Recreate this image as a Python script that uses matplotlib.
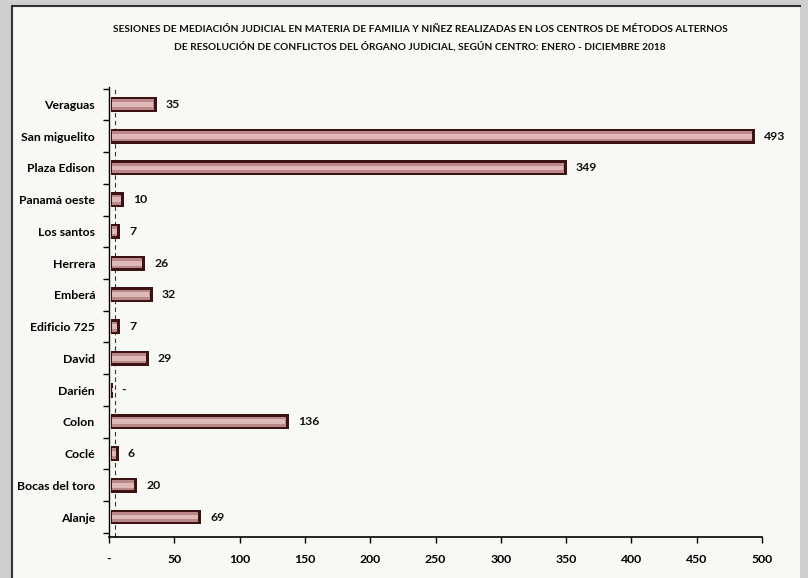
import matplotlib
matplotlib.use("Agg")
import matplotlib.pyplot as plt
from matplotlib.patches import Rectangle

plt.rcParams['font.family'] = ['Lato', 'DejaVu Sans']

categories = ["Alanje", "Bocas del toro", "Coclé", "Colon", "Darién", "David",
              "Edificio 725", "Emberá", "Herrera", "Los santos", "Panamá oeste",
              "Plaza Edison", "San miguelito", "Veraguas"]
values = [69, 20, 6, 136, 0, 29, 7, 32, 26, 7, 10, 349, 493, 35]
value_labels = ["69", "20", "6", "136", "-", "29", "7", "32", "26", "7", "10", "349", "493", "35"]
xticks = [0, 50, 100, 150, 200, 250, 300, 350, 400, 450, 500]
xtick_labels = ["-", "50", "100", "150", "200", "250", "300", "350", "400", "450", "500"]
title = ("SESIONES DE MEDIACIÓN JUDICIAL EN MATERIA DE FAMILIA Y NIÑEZ REALIZADAS EN LOS CENTROS DE MÉTODOS ALTERNOS\n"
         "DE RESOLUCIÓN DE CONFLICTOS DEL ÓRGANO JUDICIAL, SEGÚN CENTRO: ENERO - DICIEMBRE 2018")

W, H = 808, 578
fig = plt.figure(figsize=(W / 100, H / 100), dpi=100)
fig.patch.set_facecolor('#cfcfcf')
# panel
fig.add_artist(Rectangle((12 / W, 0), (800 - 12) / W, (H - 6) / H, transform=fig.transFigure,
                         facecolor='#f8f8f4', edgecolor='none', zorder=0))
fig.add_artist(plt.Line2D([12 / W, 12 / W], [0, (H - 6) / H], transform=fig.transFigure,
                          color='#333333', lw=1.5))
fig.add_artist(plt.Line2D([12 / W, 800 / W], [(H - 6) / H, (H - 6) / H], transform=fig.transFigure,
                          color='#333333', lw=1.5))

ax = fig.add_axes([109 / W, (H - 537) / H, 653 / W, (537 - 87) / H])
ax.set_facecolor('none')
y = list(range(len(categories)))
disp_vals = [v if v > 0 else 1.2 for v in values]
ax.barh(y, disp_vals, height=0.47, left=1.5, color='#3d1212', zorder=3)
ax.barh(y, [max(v - 2.5, 0.3) for v in disp_vals], height=0.32, left=2.0, color='#b98888', zorder=4)
ax.barh(y, [max(v - 3.5, 0.2) for v in disp_vals], height=0.15, left=2.5, color='#dfb8b8', zorder=5)

for yi, v, lab in zip(y, disp_vals, value_labels):
    ax.text(v + 1.5 + 7, yi, lab, va='center', ha='left', fontsize=8.8, fontweight='bold', color='#111111')

ax.set_xlim(0, 500)
ax.set_ylim(-0.63, 13.55)
ax.set_xticks(xticks)
ax.set_xticklabels(xtick_labels, fontsize=8.8, fontweight='bold')
ax.set_yticks(y)
ax.set_yticklabels(categories, fontsize=8.8, fontweight='bold')
ax.tick_params(axis='y', length=0, pad=10)
ax.set_yticks([i + 0.5 for i in range(-1, len(categories))], minor=True)
ax.tick_params(axis='y', which='minor', length=4, width=1, direction='out')
ax.tick_params(axis='x', length=4, width=1, direction='out', pad=8)
for s in ['top', 'right']:
    ax.spines[s].set_visible(False)
ax.spines['left'].set_linewidth(1)
ax.spines['bottom'].set_linewidth(1.2)
ax.axvline(4.5, color='#333333', lw=0.8, ls=(0, (4, 3)), zorder=2)

fig.text(420 / W, 1 - 38 / H, title, ha='center', va='center', fontsize=7.3, fontweight='bold',
         linespacing=1.9, color='#111111')

fig.savefig('out.png', dpi=100, facecolor=fig.get_facecolor())
